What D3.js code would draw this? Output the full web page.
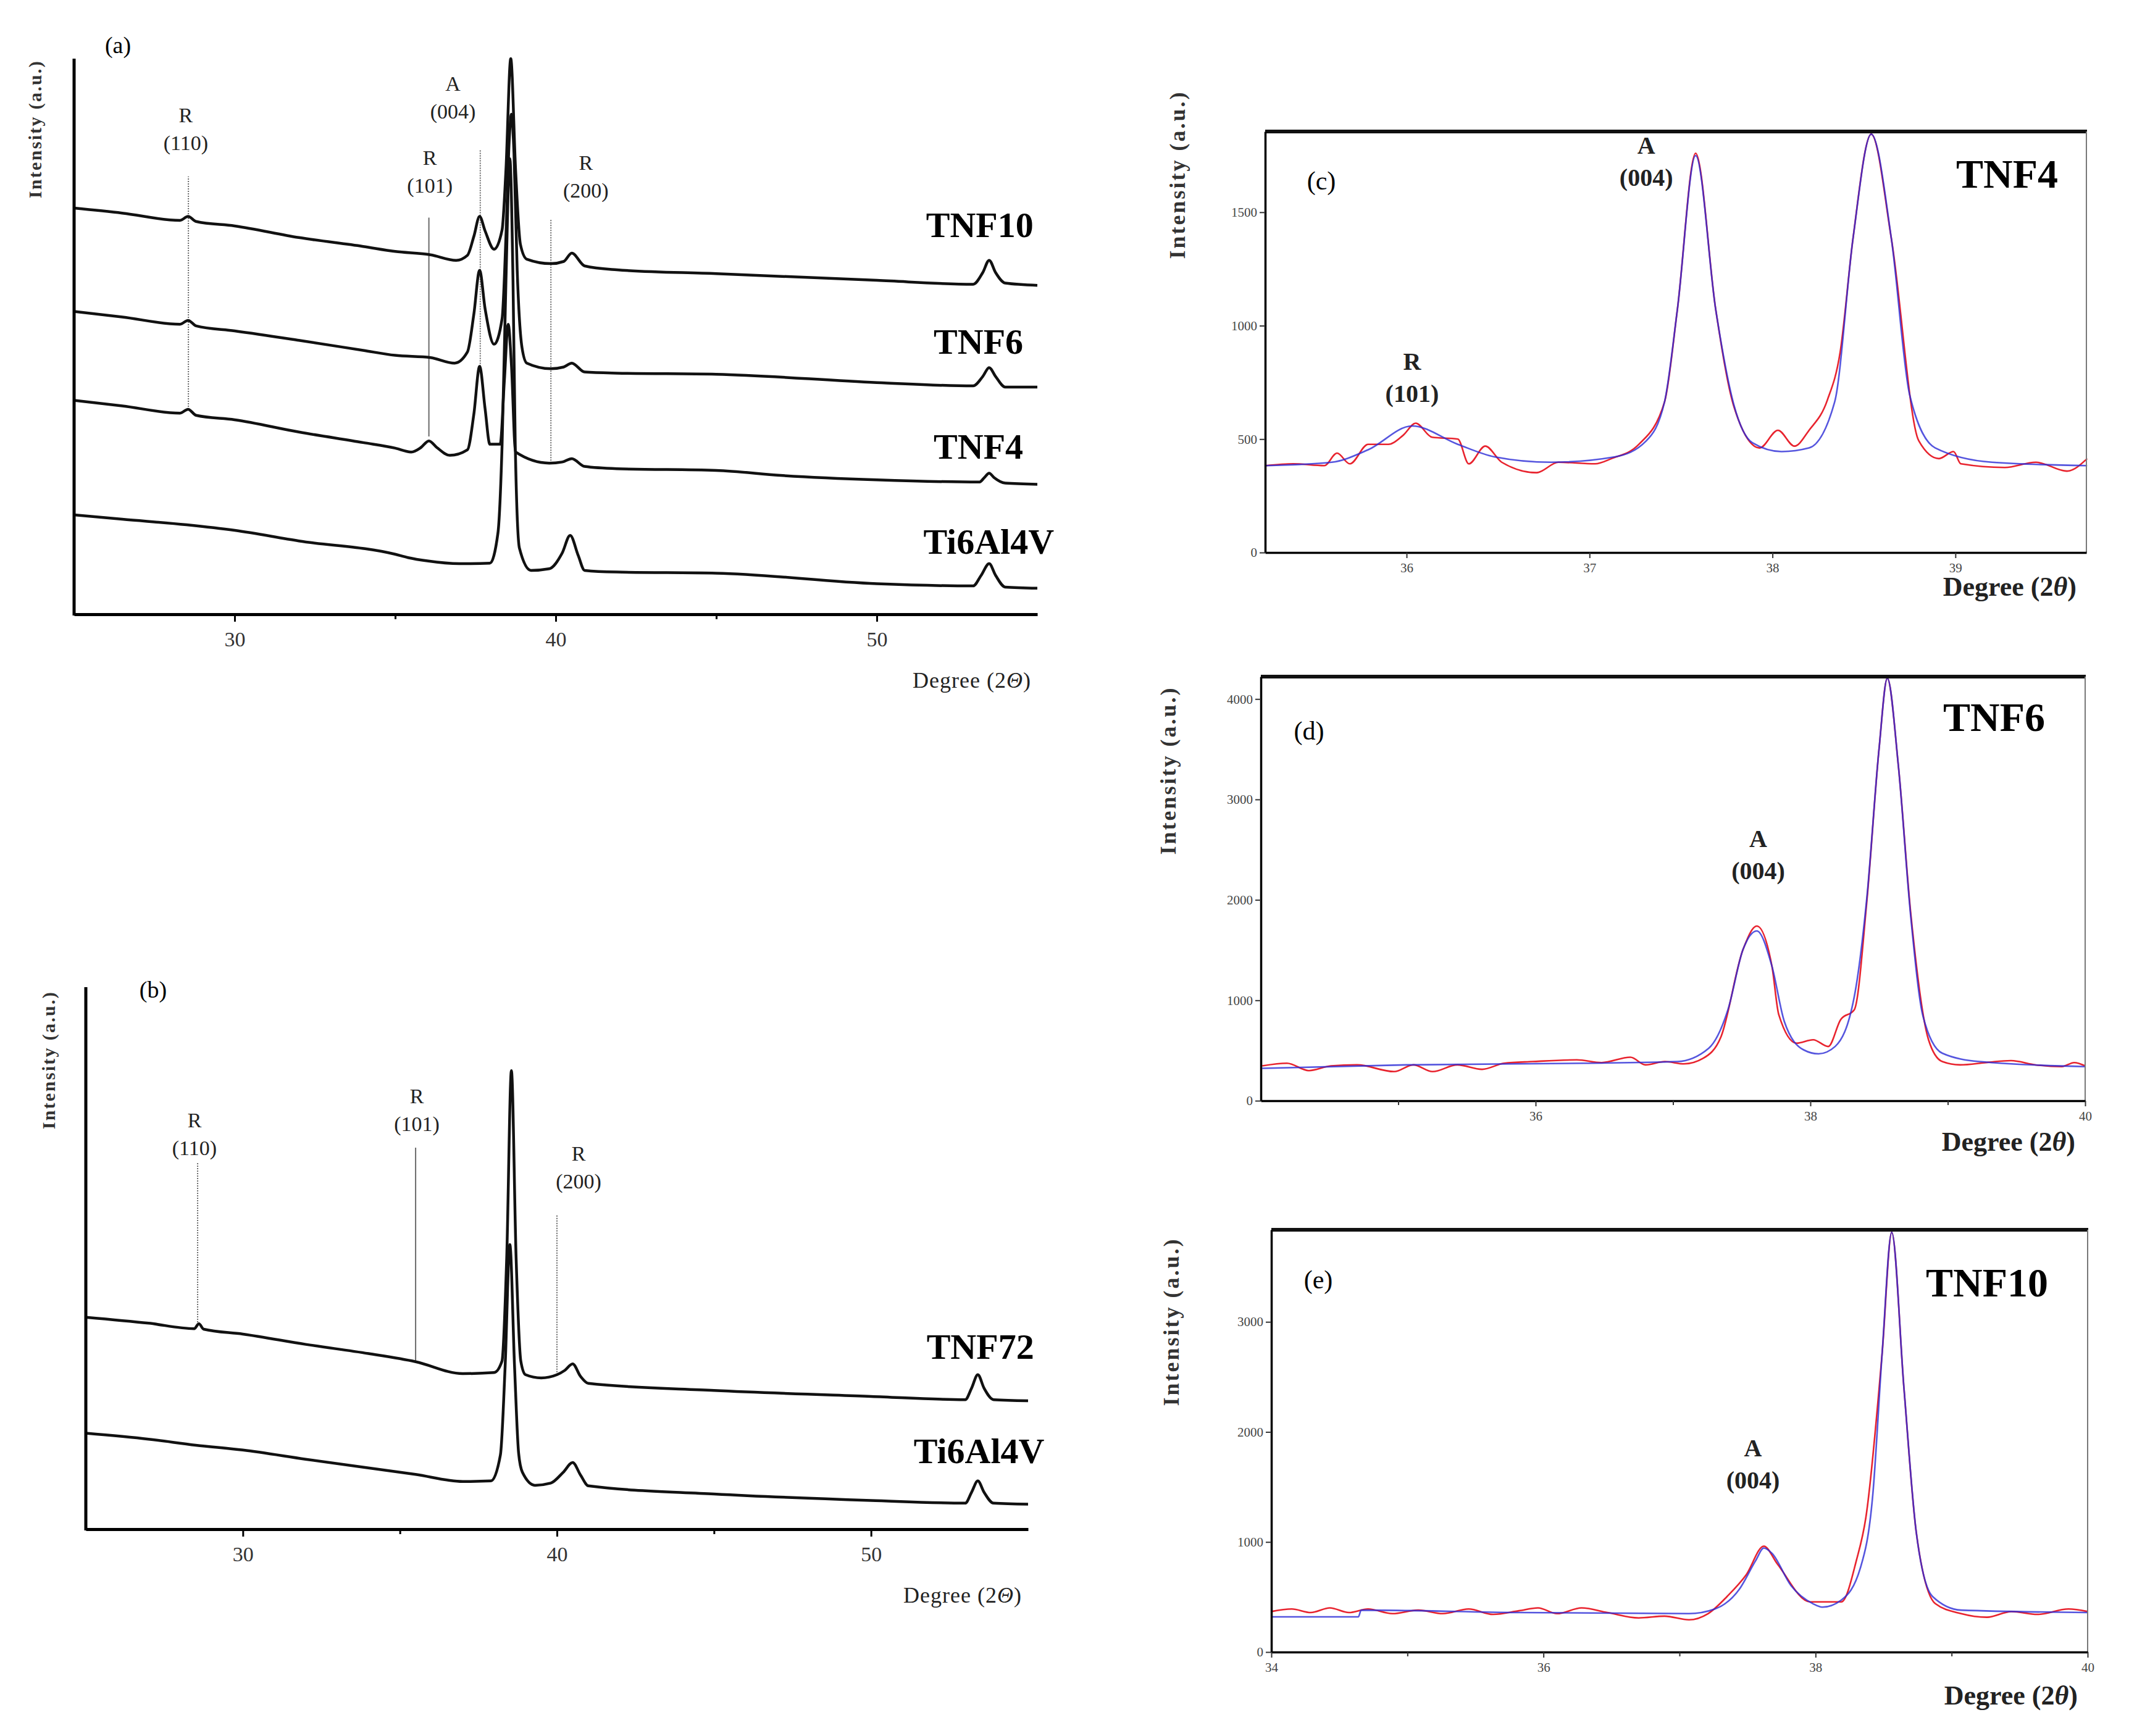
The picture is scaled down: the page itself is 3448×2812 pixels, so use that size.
<!DOCTYPE html>
<html>
<head>
<meta charset="utf-8">
<script src="https://cdn.jsdelivr.net/npm/d3@7"></script>
<style>
body{margin:0;background:#fff}
svg{display:block}
text{font-family:"Liberation Serif","Times New Roman",serif}
</style>
</head>
<body>
<svg id="fig" width="3448" height="2812"></svg>
<script>
// ---- panel (a): stacked patterns, [2theta, intensity a.u.]
const tnf10A = [[25,73.1],[26.5,72.2],[28.3,70.9],[28.55,71.6],[28.8,70.7],[30,69.9],[32,67.8],[34,66.2],[35,65.3],[36.1,64.7],[36.9,63.7],[37.25,64.6],[37.45,68],[37.63,71.6],[37.8,69],[38.08,65.7],[38.33,69.2],[38.45,80],[38.6,100],[38.75,80],[38.9,66.6],[39.1,63.9],[39.85,63.1],[40.25,63.5],[40.5,65],[40.9,62.7],[41.9,62],[45,61.3],[50,60.1],[53.0,59.4],[53.3,61.5],[53.5,63.7],[53.7,61.5],[54,59.6],[55,59.2]]
const tnf6A = [[25,54.5],[26.5,53.5],[28.3,52.2],[28.55,52.9],[28.8,51.9],[30,51],[32,49.3],[34,47.5],[35,46.6],[36.1,46.2],[36.85,45.2],[37.25,47.2],[37.45,54],[37.63,61.9],[37.8,55],[38.08,48.6],[38.33,53.2],[38.45,68],[38.55,85],[38.62,90],[38.7,83],[38.8,62],[38.95,48],[39.1,45.2],[39.85,44.2],[40.25,44.5],[40.5,45.2],[40.9,43.6],[41.9,43.4],[45,43.2],[50,41.7],[53.0,41.1],[53.3,42.8],[53.5,44.4],[53.7,42.8],[54,40.9],[55,40.9]]
const tnf4A = [[25,38.5],[26.5,37.5],[28.3,36.2],[28.55,36.9],[28.8,35.8],[30,35],[32,32.8],[34,30.9],[35,29.9],[35.5,29.2],[35.8,30],[36.05,31.2],[36.3,30],[36.7,28.6],[37.25,29.6],[37.45,36],[37.63,44.6],[37.8,37],[37.95,30.6],[38.27,30.6],[38.4,42],[38.52,52.2],[38.62,45],[38.75,29.2],[39.8,27.2],[40.2,27.4],[40.5,28],[40.9,26.6],[41.9,26.2],[45,25.9],[47,25],[50,24.2],[53.2,23.8],[53.35,24.6],[53.5,25.4],[53.65,24.6],[54,23.6],[55,23.4]]
const ti64A = [[25,17.9],[26.5,17.1],[28.5,16.1],[30,15.1],[32,13.2],[35,10.8],[35.4,10.2],[36,9.6],[37,9.1],[37.95,9.2],[38.2,14.6],[38.33,30.5],[38.45,60],[38.57,82],[38.67,60],[38.74,30.5],[38.87,11.9],[39.23,7.9],[39.8,8.2],[40.2,11],[40.45,14.2],[40.7,10.6],[40.9,7.9],[41.9,7.6],[45,7.4],[50,5.5],[53.0,5.1],[53.25,7],[53.5,9.1],[53.7,7],[54,4.9],[55,4.7]]
const namesA = ["TNF10","TNF6","TNF4","Ti6Al4V"]
const nameXA = [54.88,54.56,54.56,55.52]
const nameYA = [70.2,49.1,30.3,13.2]
const refsA = [
  {phase:"R", hkl:"(110)", x:28.56, lo:36.9, hi:78.8, lx:28.48, ly:84.9, dot:true},
  {phase:"R", hkl:"(101)", x:36.05, lo:32, hi:71.4, lx:36.08, ly:77.2, dot:false},
  {phase:"A", hkl:"(004)", x:37.65, lo:44.6, hi:83.5, lx:36.8, ly:90.6, dot:true},
  {phase:"R", hkl:"(200)", x:39.85, lo:27.2, hi:71.2, lx:40.94, ly:76.3, dot:true}
]

// ---- panel (b)
const tnf72B = [[25,39.1],[27,38],[28.45,37],[28.6,37.9],[28.75,36.9],[30,36],[32,34.1],[34,32.4],[35.5,30.9],[37,28.7],[38.0,28.9],[38.25,31],[38.4,50],[38.55,84.6],[38.7,50],[38.85,31],[39.0,28.5],[39.5,27.9],[40.0,28.5],[40.25,29.3],[40.5,30.5],[40.75,28.2],[41,26.9],[45,25.6],[50,24.5],[53.0,23.9],[53.2,26],[53.4,28.5],[53.6,26],[53.9,23.9],[55,23.7]]
const ti64B = [[25,17.7],[27,16.6],[28.5,15.5],[30,14.6],[32,12.9],[35.5,10.1],[37,8.8],[37.9,8.9],[38.2,13.7],[38.35,30],[38.5,52.5],[38.65,30],[38.78,14],[38.9,10.5],[39.3,8.1],[39.8,8.5],[40.2,10.5],[40.5,12.3],[40.75,10],[41,8],[45,6.5],[50,5.3],[53.0,4.8],[53.2,6.8],[53.4,8.9],[53.6,6.8],[53.9,4.8],[55,4.6]]
const namesB = ["TNF72","Ti6Al4V"]
const nameXB = [55.19,55.52]
const nameYB = [33.7,14.5]
const refsB = [
  {phase:"R", hkl:"(110)", x:28.56, lo:37.7, hi:67.7, lx:28.46, ly:70.4, dot:true},
  {phase:"R", hkl:"(101)", x:35.5, lo:30.9, hi:70.4, lx:35.54, ly:74.8, dot:false},
  {phase:"R", hkl:"(200)", x:40.0, lo:28.5, hi:58.1, lx:40.69, ly:64.2, dot:true}
]
const ticksAB = [30,40,50]
const minorAB = [35,45]

// ---- panel (c) TNF4 fit: red = measured, blue = fitted
const redC = [[35.23,383],[35.38,391],[35.55,383],[35.62,438],[35.69,391],[35.79,477],[35.9,477],[35.98,516],[36.05,570],[36.14,508],[36.28,500],[36.34,391],[36.43,469],[36.52,398],[36.71,352],[36.83,398],[37.03,391],[37.12,414],[37.27,477],[37.41,664],[37.48,1070],[37.58,1760],[37.69,1070],[37.79,641],[37.93,461],[38.03,539],[38.12,469],[38.2,539],[38.3,672],[38.37,883],[38.44,1383],[38.54,1844],[38.65,1383],[38.8,492],[38.91,414],[38.99,445],[39.03,391],[39.27,375],[39.44,398],[39.61,359],[39.72,414]]
const blueC = [[35.23,383],[35.59,398],[35.79,453],[36.03,558],[36.28,477],[36.48,422],[36.79,398],[37.14,422],[37.31,492],[37.41,664],[37.48,1070],[37.58,1750],[37.69,1070],[37.79,648],[37.89,484],[38.05,445],[38.2,461],[38.34,664],[38.44,1383],[38.54,1844],[38.65,1383],[38.75,695],[38.89,461],[39.2,398],[39.72,383]]
const xTicksC = [36,37,38,39]
const yTicksC = [0,500,1000,1500]
const notesC = [{phase:"A", hkl:"(004)", x:37.31, y:1655},{phase:"R", hkl:"(101)", x:36.03, y:702}]

// ---- panel (d) TNF6 fit
const redD = [[34.01,347],[34.19,373],[34.35,300],[34.51,347],[34.7,357],[34.97,290],[35.11,357],[35.25,290],[35.43,357],[35.61,313],[35.77,373],[35.98,390],[36.3,407],[36.48,380],[36.69,433],[36.8,357],[36.94,390],[37.08,367],[37.22,423],[37.35,640],[37.51,1507],[37.61,1740],[37.72,1340],[37.77,857],[37.9,573],[38.02,607],[38.13,540],[38.22,807],[38.32,907],[38.41,1973],[38.5,3507],[38.56,4207],[38.64,3340],[38.73,1873],[38.86,607],[38.96,390],[39.09,357],[39.28,380],[39.46,400],[39.64,357],[39.83,340],[39.92,380],[40,347]]
const blueD = [[34.01,323],[35.06,357],[36.35,373],[37.03,390],[37.26,523],[37.4,907],[37.51,1507],[37.61,1690],[37.72,1340],[37.81,790],[37.95,507],[38.06,467],[38.18,540],[38.32,1040],[38.41,2007],[38.5,3507],[38.56,4207],[38.64,3340],[38.73,1840],[38.82,840],[38.96,473],[39.23,390],[40,340]]
const xTicksD = [36,38,40]
const xMinorDE = [35,37,39]
const yTicksD = [0,1000,2000,3000,4000]
const notesD = [{phase:"A", hkl:"(004)", x:37.62, y:2293}]

// ---- panel (e) TNF10 fit
const redE = [[34,368],[34.15,391],[34.29,359],[34.43,401],[34.57,359],[34.71,391],[34.89,349],[35.08,381],[35.26,349],[35.45,391],[35.63,342],[35.82,375],[35.96,401],[36.1,349],[36.28,401],[36.47,359],[36.7,310],[36.89,326],[37.07,293],[37.21,349],[37.35,505],[37.49,701],[37.62,962],[37.72,799],[37.96,456],[38.05,456],[38.19,456],[38.3,831],[38.37,1223],[38.49,2722],[38.56,3814],[38.65,2396],[38.74,1092],[38.88,440],[39.07,349],[39.26,316],[39.44,368],[39.63,342],[39.86,391],[40,368]]
const blueE = [[34,320],[34.64,320],[34.66,381],[35.82,359],[37.07,349],[37.26,391],[37.44,571],[37.56,831],[37.62,945],[37.68,897],[37.82,603],[37.98,440],[38.05,408],[38.19,473],[38.33,766],[38.42,1418],[38.49,2722],[38.56,3814],[38.65,2396],[38.74,1092],[38.86,505],[39.07,381],[40,359]]
const xTicksE = [34,36,38,40]
const yTicksE = [0,1000,2000,3000]
const notesE = [{phase:"A", hkl:"(004)", x:37.54, y:1565}]

const svg = d3.select("#fig")
const fmt = d3.format("d")

function drawStack(p){
  const x = d3.scaleLinear().domain([25,55]).range([p.left,p.right])
  const y = d3.scaleLinear().domain([0,100]).range([p.bottom,p.top])
  const g = svg.append("g")

  // phase marker lines + labels
  p.refs.forEach(r => {
    g.append("line")
      .attr("x1",x(r.x)).attr("x2",x(r.x))
      .attr("y1",y(r.lo)).attr("y2",y(r.hi))
      .attr("stroke","#6a6a6a").attr("stroke-width",2)
      .attr("stroke-dasharray", r.dot ? "2,2" : null)
    g.append("text").attr("x",x(r.lx)).attr("y",y(r.ly)).attr("dy","0.35em")
      .attr("text-anchor","middle").attr("font-size",34).attr("fill","#222").text(r.hkl)
    g.append("text").attr("x",x(r.lx)).attr("y",y(r.ly)-45).attr("dy","0.35em")
      .attr("text-anchor","middle").attr("font-size",34).attr("fill","#222").text(r.phase)
  })

  const line = d3.line().x(d=>x(d[0])).y(d=>y(d[1])).curve(d3.curveMonotoneX)
  p.series.forEach(s => {
    g.append("path").attr("d",line(s)).attr("fill","none")
      .attr("stroke","#111").attr("stroke-width",4.5).attr("stroke-linejoin","round")
  })

  p.names.forEach((n,i) => {
    g.append("text").attr("x",x(p.nameX[i])).attr("y",y(p.nameY[i])).attr("dy","0.35em")
      .attr("text-anchor","end").attr("font-size",58).attr("font-weight","bold").text(n)
  })

  // axes
  g.append("line").attr("x1",p.left).attr("x2",p.left).attr("y1",p.top).attr("y2",p.bottom+2)
    .attr("stroke","#000").attr("stroke-width",5)
  const ax = g.append("g").attr("transform",`translate(0,${p.bottom})`)
    .call(d3.axisBottom(x).tickValues(ticksAB).tickSize(12).tickSizeOuter(0).tickPadding(16).tickFormat(fmt))
  ax.select(".domain").attr("stroke-width",5)
  ax.selectAll(".tick line").attr("stroke-width",3)
  ax.selectAll("text").attr("font-family","Liberation Serif").attr("font-size",34).attr("fill","#333")
  const mn = g.append("g").attr("transform",`translate(0,${p.bottom})`)
    .call(d3.axisBottom(x).tickValues(minorAB).tickSize(8).tickFormat(""))
  mn.select(".domain").remove()
  mn.selectAll(".tick line").attr("stroke-width",3)

  g.append("text").attr("x",p.right-10).attr("y",p.bottom+119).attr("text-anchor","end")
    .attr("font-size",36).attr("fill","#222").attr("letter-spacing",1)
    .html('Degree (2<tspan font-style="italic">Θ</tspan>)')
  g.append("text").attr("transform",`translate(${p.ylabX},${p.ylabY}) rotate(-90)`)
    .attr("dy","0.35em").attr("text-anchor","middle").attr("font-size",30)
    .attr("font-weight","bold").attr("letter-spacing",2.3).attr("fill","#333").text("Intensity (a.u.)")
  g.append("text").attr("x",p.tagX).attr("y",p.tagY).attr("dy","0.35em")
    .attr("text-anchor","middle").attr("font-size",38).text(p.tag)
}

function drawFit(p){
  const x = d3.scaleLinear().domain(p.xd).range([p.left,p.right])
  const y = d3.scaleLinear().domain([0,p.ymax]).range([p.bottom,p.top])
  const g = svg.append("g")

  const line = d3.line().x(d=>x(d[0])).y(d=>y(d[1])).curve(d3.curveMonotoneX)
  g.append("path").attr("d",line(p.red)).attr("fill","none")
    .attr("stroke","#e8232e").attr("stroke-width",2.6)
  g.append("path").attr("d",line(p.blue)).attr("fill","none")
    .attr("stroke","#2b2bd6").attr("stroke-width",2.6).attr("stroke-opacity",0.8)

  // frame
  g.append("line").attr("x1",p.left).attr("x2",p.right+1).attr("y1",p.top).attr("y2",p.top)
    .attr("stroke","#111").attr("stroke-width",6)
  g.append("line").attr("x1",p.right).attr("x2",p.right).attr("y1",p.top).attr("y2",p.bottom)
    .attr("stroke","#777").attr("stroke-width",2)

  const ya = g.append("g").attr("transform",`translate(${p.left},0)`)
    .call(d3.axisLeft(y).tickValues(p.yTicks).tickSize(9).tickSizeOuter(0).tickPadding(4).tickFormat(fmt))
  ya.select(".domain").attr("stroke-width",3.5)
  ya.selectAll(".tick line").attr("stroke-width",2).attr("stroke","#333")
  ya.selectAll("text").attr("font-family","Liberation Sans").attr("font-size",21).attr("fill","#444")

  const xa = g.append("g").attr("transform",`translate(0,${p.bottom})`)
    .call(d3.axisBottom(x).tickValues(p.xTicks).tickSize(9).tickSizeOuter(0).tickPadding(8).tickFormat(fmt))
  xa.select(".domain").attr("stroke-width",3.5)
  xa.selectAll(".tick line").attr("stroke-width",2).attr("stroke","#333")
  xa.selectAll("text").attr("font-family","Liberation Sans").attr("font-size",21).attr("fill","#444")
  if (p.xMinor){
    const mn = g.append("g").attr("transform",`translate(0,${p.bottom})`)
      .call(d3.axisBottom(x).tickValues(p.xMinor).tickSize(7).tickFormat(""))
    mn.select(".domain").remove()
    mn.selectAll(".tick line").attr("stroke-width",2).attr("stroke","#333")
  }

  p.notes.forEach(n => {
    g.append("text").attr("x",x(n.x)).attr("y",y(n.y)).attr("dy","0.35em")
      .attr("text-anchor","middle").attr("font-size",40).attr("font-weight","bold").attr("fill","#222").text(n.hkl)
    g.append("text").attr("x",x(n.x)).attr("y",y(n.y)-52).attr("dy","0.35em")
      .attr("text-anchor","middle").attr("font-size",40).attr("font-weight","bold").attr("fill","#222").text(n.phase)
  })

  g.append("text").attr("x",p.right-p.titleDx).attr("y",p.top+p.titleDy).attr("dy","0.35em")
    .attr("text-anchor","end").attr("font-size",66).attr("font-weight","bold").text(p.title)
  g.append("text").attr("x",p.left+p.tagDx).attr("y",p.top+p.tagDy).attr("dy","0.35em")
    .attr("text-anchor","middle").attr("font-size",42).text(p.tag)
  g.append("text").attr("x",p.right-16).attr("y",p.bottom+p.degDy).attr("dy","0.35em")
    .attr("text-anchor","end").attr("font-size",44).attr("font-weight","bold").attr("fill","#222")
    .html('Degree (2<tspan font-style="italic">θ</tspan>)')
  g.append("text").attr("transform",`translate(${p.ylabX},${p.ylabY}) rotate(-90)`)
    .attr("dy","0.35em").attr("text-anchor","middle").attr("font-size",36)
    .attr("font-weight","bold").attr("letter-spacing",3).attr("fill","#333").text("Intensity (a.u.)")
}

drawStack({left:120,right:1680,top:95,bottom:995,
  series:[tnf10A,tnf6A,tnf4A,ti64A], names:namesA, nameX:nameXA, nameY:nameYA, refs:refsA,
  ylabX:56, ylabY:209, tag:"(a)", tagX:191, tagY:73})
drawStack({left:139,right:1665,top:1599,bottom:2477,
  series:[tnf72B,ti64B], names:namesB, nameX:nameXB, nameY:nameYB, refs:refsB,
  ylabX:78, ylabY:1717, tag:"(b)", tagX:248, tagY:1603})

drawFit({left:2049,right:3379,top:213,bottom:895,xd:[35.227,39.716],ymax:1856,
  red:redC, blue:blueC, xTicks:xTicksC, yTicks:yTicksC, notes:notesC,
  title:"TNF4", titleDx:46, titleDy:68, tag:"(c)", tagDx:91, tagDy:79, degDy:55,
  ylabX:1906, ylabY:283})
drawFit({left:2042,right:3377,top:1096,bottom:1783,xd:[34,40],ymax:4223,
  red:redD, blue:blueD, xTicks:xTicksD, xMinor:xMinorDE, yTicks:yTicksD, notes:notesD,
  title:"TNF6", titleDx:65, titleDy:65, tag:"(d)", tagDx:78, tagDy:87, degDy:66,
  ylabX:1891, ylabY:1248})
drawFit({left:2059,right:3381,top:1992,bottom:2676,xd:[34,40],ymax:3837,
  red:redE, blue:blueE, xTicks:xTicksE, xMinor:xMinorDE, yTicks:yTicksE, notes:notesE,
  title:"TNF10", titleDx:64, titleDy:85, tag:"(e)", tagDx:76, tagDy:80, degDy:70,
  ylabX:1896, ylabY:2141})
</script>
</body>
</html>
